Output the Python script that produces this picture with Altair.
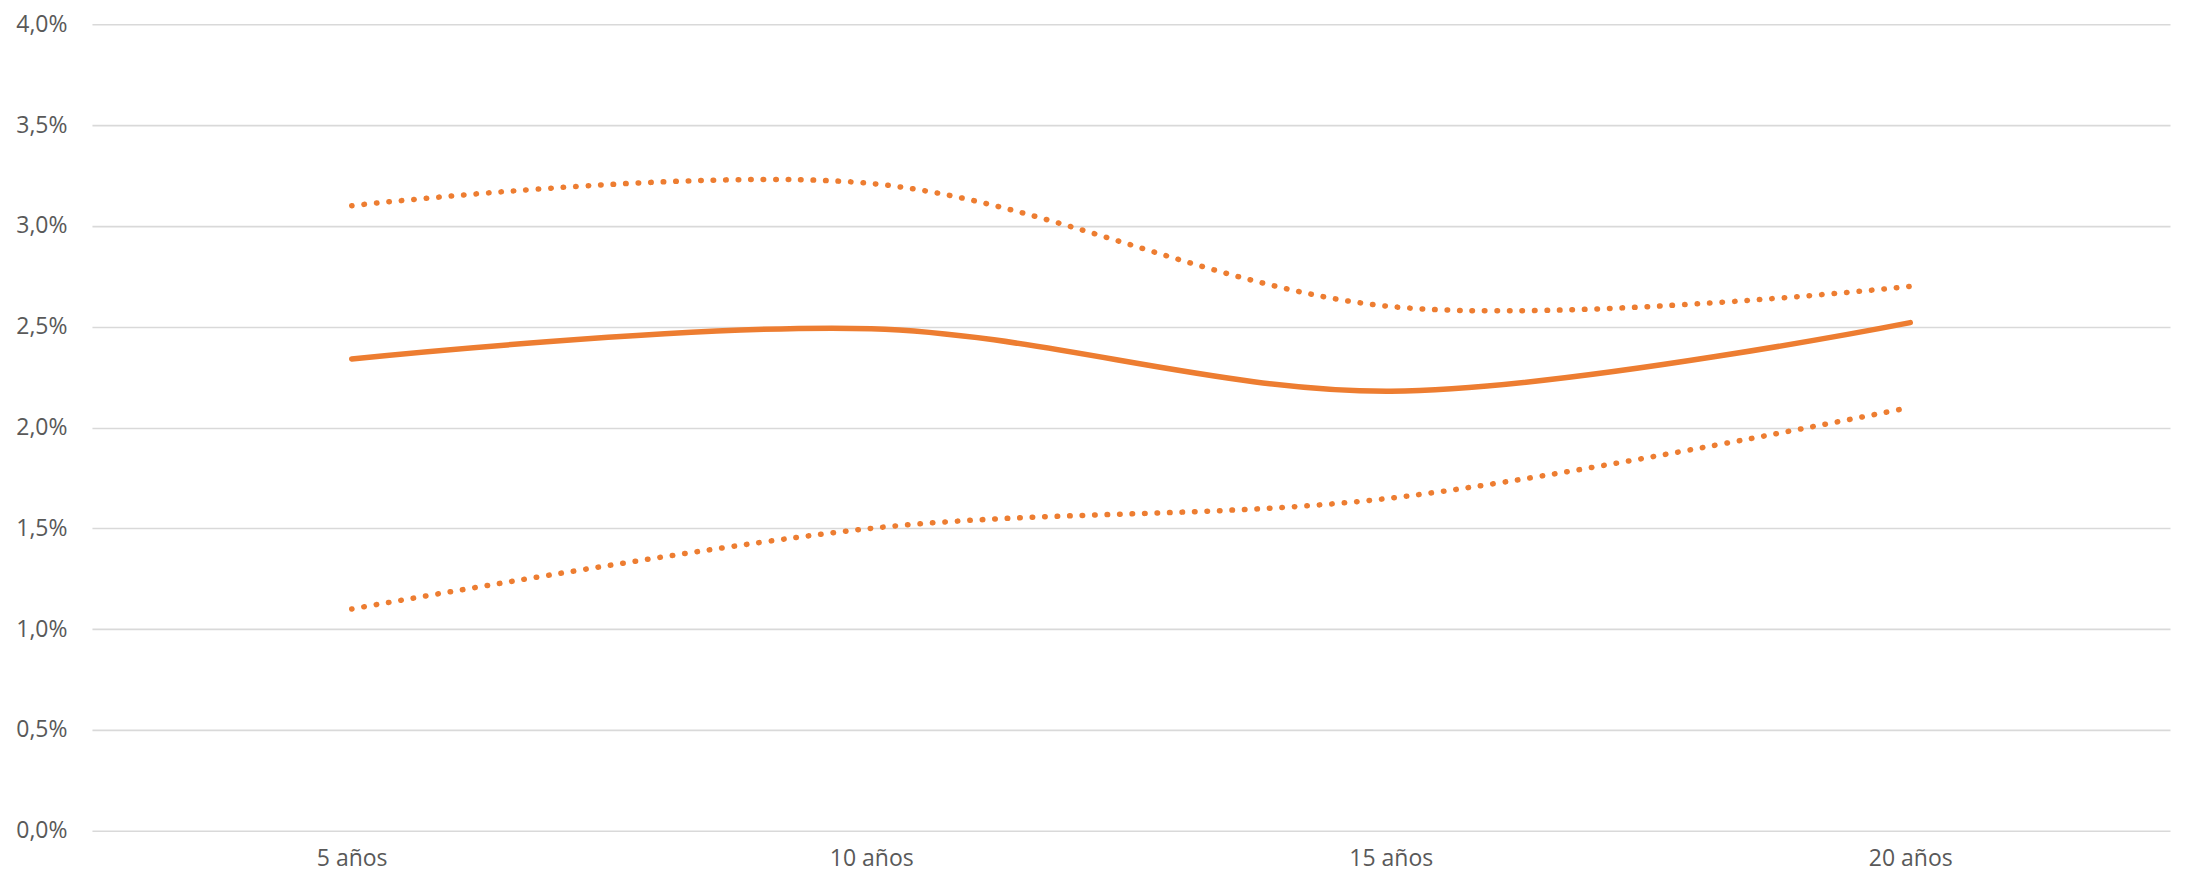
import altair as alt
import pandas as pd

categories = ["5 años", "10 años", "15 años", "20 años"]
central = [0.0234, 0.0249, 0.0218, 0.0252]
upper = [0.0310, 0.0321, 0.0260, 0.0270]
lower = [0.0110, 0.0150, 0.0165, 0.0210]
y_ticks = [0.0, 0.005, 0.01, 0.015, 0.02, 0.025, 0.03, 0.035, 0.04]

rows = []
for name, vals in [("central", central), ("superior", upper), ("inferior", lower)]:
    for c, v in zip(categories, vals):
        rows.append({"plazo": c, "valor": v, "serie": name})
df = pd.DataFrame(rows)

ORANGE = "#ED7D31"
FONT = "Open Sans"

x = alt.X(
    "plazo:N",
    sort=categories,
    scale=alt.Scale(type="point", padding=0.5),
    axis=alt.Axis(
        title=None, labelAngle=0, domain=False, ticks=False, grid=False,
        labelFont=FONT, labelFontSize=23, labelColor="#595959", labelPadding=17,
    ),
)
y = alt.Y(
    "valor:Q",
    scale=alt.Scale(domain=[0, 0.04], nice=False, zero=True),
    axis=alt.Axis(
        title=None, values=y_ticks, domain=False, ticks=False, grid=True,
        gridColor="#D9D9D9", gridWidth=1.6,
        labelExpr="replace(format(datum.value, '.1%'), '.', ',')",
        labelFont=FONT, labelFontSize=23, labelColor="#595959", labelPadding=25,
        labelBaseline="middle",
    ),
)

base = alt.Chart(df)

solid = base.transform_filter(alt.datum.serie == "central").mark_line(
    interpolate="catmull-rom", color=ORANGE, strokeWidth=5.5, strokeCap="round"
).encode(x=x, y=y)

dotted = base.transform_filter(alt.datum.serie != "central").mark_line(
    interpolate="catmull-rom", color=ORANGE, strokeWidth=5.5, strokeCap="round",
    strokeDash=[0.5, 12],
).encode(x=x, y=y, detail="serie:N")

chart = alt.layer(dotted, solid).properties(
    width=2079,
    height=807,
    autosize=alt.AutoSizeParams(type="none"),
    padding={"left": 84, "top": 16, "right": 10, "bottom": 50},
).configure_view(stroke=None)

chart.save("out.html", embed_options={"renderer": "svg", "actions": False})
